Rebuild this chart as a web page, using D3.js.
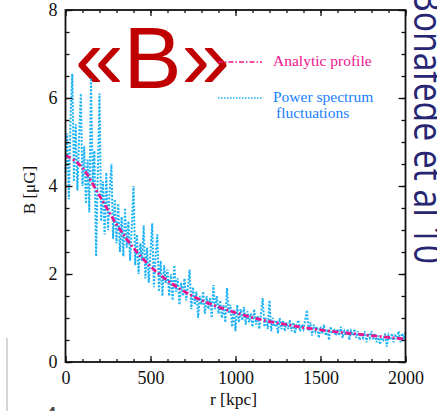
<!DOCTYPE html>
<html>
<head>
<meta charset="utf-8">
<script src="https://cdn.jsdelivr.net/npm/d3@7"></script>
<style>
  html, body { margin: 0; padding: 0; background: #fff; overflow: hidden; }
  svg { display: block; }
</style>
</head>
<body>
<div id="chart"></div>
<script>
// radius grid for the analytic curve (kpc)
const profileR = [0, 100, 200, 300, 400, 500, 600, 700, 800, 900, 1000,
  1100, 1200, 1300, 1400, 1500, 1600, 1700, 1800, 1900, 2000];
// analytic profile B [muG]
const profileB = [4.70, 4.41, 3.78, 3.13, 2.59, 2.17, 1.85, 1.60, 1.40, 1.25, 1.12,
  1.01, 0.92, 0.85, 0.78, 0.73, 0.68, 0.64, 0.60, 0.56, 0.52];

// power spectrum fluctuations, every 10 kpc from 0 to 2000
const flucStep = 10;
const flucB = [
  4.3, 5.2, 3.7, 5.6, 6.55, 4.1, 5.4, 3.9, 5.1, 6.1, 4.0,
  4.9, 3.6, 4.6, 3.4, 6.45, 4.0, 4.8, 2.4, 4.3, 6.1,
  3.2, 4.1, 2.9, 4.3, 3.0, 3.9, 4.5, 2.8, 3.7, 2.7,
  3.6, 2.5, 3.3, 2.4, 3.5, 2.6, 3.2, 2.3, 3.1, 4.0,
  2.2, 2.9, 2.0, 2.7, 2.3, 3.1, 1.9, 2.6, 1.8, 2.5,
  3.15, 1.7, 2.4, 2.9, 1.6, 2.3, 1.5, 2.2, 1.8, 2.1,
  1.5, 2.0, 1.4, 2.2, 1.6, 1.9, 1.3, 1.8, 1.5, 1.9,
  1.4, 1.7, 2.1, 1.2, 1.7, 1.3, 1.6, 1.0, 1.5, 1.3,
  1.6, 1.1, 1.5, 1.2, 1.45, 1.0, 1.75, 1.2, 1.5, 1.1,
  1.4, 1.0, 1.3, 0.9, 1.68, 1.1, 1.3, 0.8, 1.2, 0.7,
  1.3, 0.9, 1.2, 0.95, 1.25, 0.85, 1.15, 0.9, 1.1, 0.8,
  1.2, 0.85, 1.05, 0.75, 1.1, 1.45, 0.8, 1.0, 0.75, 1.4,
  0.7, 1.0, 0.8, 0.95, 0.65, 1.0, 0.75, 0.95, 0.7, 0.9,
  0.75, 0.95, 0.7, 0.9, 0.65, 0.85, 0.95, 0.7, 0.85, 0.75,
  0.95, 1.18, 0.7, 0.9, 0.6, 0.85, 0.7, 0.8, 0.55, 0.8,
  0.65, 0.85, 0.6, 0.75, 0.5, 0.8, 0.65, 0.75, 0.6, 0.75,
  0.6, 0.8, 0.55, 0.7, 0.6, 0.75, 0.5, 0.7, 0.6, 0.75,
  0.55, 0.7, 0.5, 0.65, 0.55, 0.7, 0.45, 0.65, 0.55, 0.7,
  0.5, 0.65, 0.45, 0.6, 0.4, 0.55, 0.5, 0.65, 0.35, 0.6,
  0.5, 0.65, 0.45, 0.6, 0.55, 0.7, 0.45, 0.65, 0.55, 0.68
];

const xTicks = [0, 500, 1000, 1500, 2000];
const yTicks = [0, 2, 4, 6, 8];
const legendLabels = ["Analytic profile", "Power spectrum", "fluctuations"];

const width = 437, height = 411;
const margin = { top: 10, right: 31.5, bottom: 49, left: 65.5 };

const svg = d3.select('#chart').append('svg')
  .attr('width', width)
  .attr('height', height);

const x = d3.scaleLinear().domain([0, 2000]).range([margin.left, width - margin.right]);
const y = d3.scaleLinear().domain([0, 8]).range([height - margin.bottom, margin.top]);

const serif = "'Liberation Serif', 'Times New Roman', serif";
const blue = '#1cb2f5';
const pink = '#f0148c';

// big «B» label
svg.append('text')
  .attr('x', 75)
  .attr('y', 88)
  .attr('font-family', "'Liberation Sans', Arial, sans-serif")
  .attr('font-size', 87)
  .attr('fill', '#c00000')
  .text('«B»');

// fluctuations (dotted)
const flucLine = d3.line()
  .x((d, i) => x(i * flucStep))
  .y(d => y(d));
svg.append('path')
  .datum(flucB)
  .attr('d', flucLine)
  .attr('fill', 'none')
  .attr('stroke', blue)
  .attr('stroke-width', 2)
  .attr('stroke-dasharray', '2,1.5');

// analytic profile (dash-dot)
const profLine = d3.line()
  .curve(d3.curveMonotoneX)
  .x((d, i) => x(profileR[i]))
  .y(d => y(d));
svg.append('path')
  .datum(profileB)
  .attr('d', profLine)
  .attr('fill', 'none')
  .attr('stroke', pink)
  .attr('stroke-width', 2.8)
  .attr('stroke-dasharray', '6,2.5,2,2.5');

// axes on all four sides, ticks pointing inward
const xMinor = d3.range(0, 2001, 100);
const yMinor = d3.range(0, 8.01, 0.5);

svg.append('g')
  .attr('transform', `translate(0,${y(0)})`)
  .call(d3.axisBottom(x).tickValues(xMinor).tickSize(-3).tickFormat(''));
svg.append('g')
  .attr('transform', `translate(0,${y(0)})`)
  .call(d3.axisBottom(x).tickValues(xTicks).tickSize(-6).tickPadding(9).tickFormat(d3.format('d')))
  .call(g => g.selectAll('text').attr('font-family', serif).attr('font-size', 18).attr('fill', '#111'));
svg.append('g')
  .attr('transform', `translate(0,${y(8)})`)
  .call(d3.axisTop(x).tickValues(xMinor).tickSize(-3).tickFormat(''));
svg.append('g')
  .attr('transform', `translate(0,${y(8)})`)
  .call(d3.axisTop(x).tickValues(xTicks).tickSize(-6).tickFormat(''));

svg.append('g')
  .attr('transform', `translate(${x(0)},0)`)
  .call(d3.axisLeft(y).tickValues(yMinor).tickSize(-4).tickFormat(''));
svg.append('g')
  .attr('transform', `translate(${x(0)},0)`)
  .call(d3.axisLeft(y).tickValues(yTicks).tickSize(-7).tickPadding(8).tickFormat(d3.format('d')))
  .call(g => g.selectAll('text').attr('font-family', serif).attr('font-size', 18).attr('fill', '#111'));
svg.append('g')
  .attr('transform', `translate(${x(2000)},0)`)
  .call(d3.axisRight(y).tickValues(yMinor).tickSize(-4).tickFormat(''));
svg.append('g')
  .attr('transform', `translate(${x(2000)},0)`)
  .call(d3.axisRight(y).tickValues(yTicks).tickSize(-7).tickFormat(''));

svg.selectAll('.domain').remove();
svg.selectAll('.tick line').attr('stroke', '#111').attr('stroke-width', 1.3);

// frame
svg.append('rect')
  .attr('x', x(0)).attr('y', y(8))
  .attr('width', x(2000) - x(0)).attr('height', y(0) - y(8))
  .attr('fill', 'none').attr('stroke', '#111').attr('stroke-width', 1.8);

// axis titles
svg.append('text')
  .attr('x', (x(0) + x(2000)) / 2 - 2)
  .attr('y', 405)
  .attr('text-anchor', 'middle')
  .attr('font-family', serif).attr('font-size', 17.5).attr('fill', '#111')
  .text('r [kpc]');
svg.append('text')
  .attr('transform', `translate(35,${(y(0) + y(8)) / 2 + 4}) rotate(-90)`)
  .attr('text-anchor', 'middle')
  .attr('font-family', serif).attr('font-size', 17).attr('fill', '#111')
  .text('B [μG]');

// legend
const legend = svg.append('g').attr('font-family', serif).attr('font-size', 15.5);
legend.append('line')
  .attr('x1', 218).attr('x2', 262).attr('y1', 62).attr('y2', 62)
  .attr('stroke', pink).attr('stroke-width', 1.3)
  .attr('stroke-dasharray', '5,2,1.5,2');
legend.append('text')
  .attr('x', 273).attr('y', 66).attr('fill', pink)
  .text(legendLabels[0]);
legend.append('line')
  .attr('x1', 218).attr('x2', 262).attr('y1', 98).attr('y2', 98)
  .attr('stroke', blue).attr('stroke-width', 1.3)
  .attr('stroke-dasharray', '1.5,1.5');
legend.append('text')
  .attr('x', 273).attr('y', 102).attr('fill', '#1a80ff')
  .text(legendLabels[1]);
legend.append('text')
  .attr('x', 276).attr('y', 118).attr('fill', '#1a80ff')
  .text(legendLabels[2]);

// side citation
svg.append('text')
  .attr('transform', 'translate(414,-10) rotate(90)')
  .attr('font-family', "'Open Sans', sans-serif")
  .attr('font-size', 40)
  .attr('fill', '#262672')
  .attr('textLength', 274)
  .attr('lengthAdjust', 'spacingAndGlyphs')
  .text('Bonafede et al 10');

// slide leftovers at the bottom left
svg.append('line')
  .attr('x1', 7).attr('x2', 7).attr('y1', 338).attr('y2', 411)
  .attr('stroke', '#c8c8c8').attr('stroke-width', 1.5);
svg.append('text')
  .attr('x', 44).attr('y', 424)
  .attr('font-family', "'Liberation Sans', sans-serif")
  .attr('font-size', 24).attr('fill', '#444')
  .text('4');
</script>
</body>
</html>
